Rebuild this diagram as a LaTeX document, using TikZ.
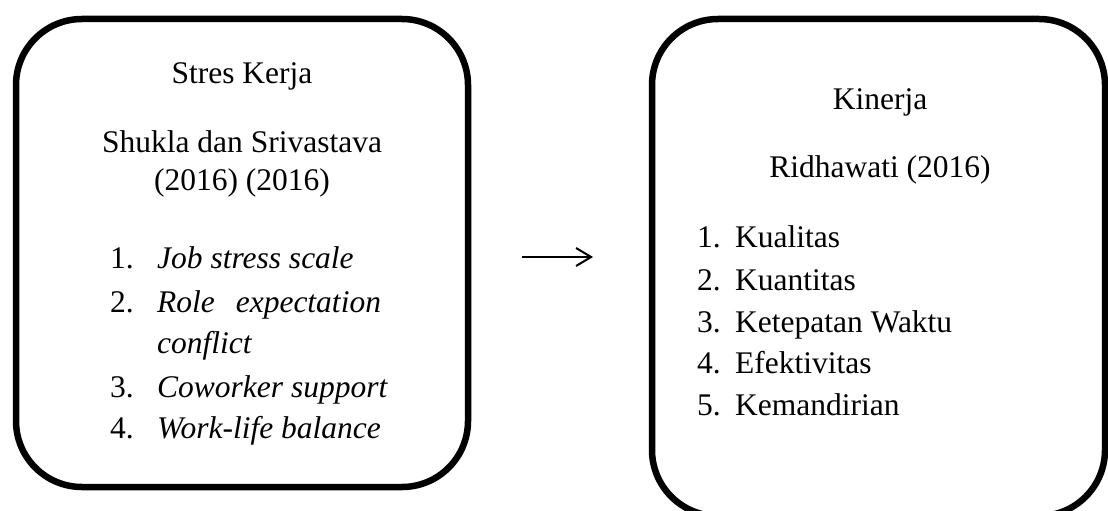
\documentclass[tikz,border=0pt]{standalone}
\usepackage{fontspec}
\setmainfont{Liberation Serif}
\usetikzlibrary{arrows.meta}

\tikzset{
    kotak/.style={draw, line width=6.5pt, rounded corners=66pt},
    judul/.style={anchor=base, inner sep=0pt},
    butir/.style={anchor=base west, inner sep=0pt},
    panah/.style={line width=2pt, -{Straight Barb[length=15pt,width=18pt,line width=2pt]}}
}

\begin{document}
\begin{tikzpicture}[x=1pt, y=-1pt, font=\fontsize{31.5}{42}\selectfont]
    \useasboundingbox (0,0) rectangle (1108,511);
    % kotak kiri dan kanan
    \node[kotak, minimum width=452pt, minimum height=468pt] (stres)   at (242,253)   {};
    \node[kotak, minimum width=453pt, minimum height=497pt] (kinerja) at (878.5,267.5) {};

    % isi kotak kiri
    \node[judul] (stresjudul) at (242,83)  {Stres Kerja};
    \node[judul] (stressumber) at (242,152) {Shukla dan Srivastava};
    \node[judul] (strestahun) at (242,190) {(2016) (2016)};
    \node[butir] (sn1) at (110,268) {1.};
    \node[butir] (sn2) at (110,312) {2.};
    \node[butir] (sn3) at (110,397) {3.};
    \node[butir] (sn4) at (110,438) {4.};
    \node[butir] (si1) at (157,268) {\itshape Job stress scale};
    \node[butir] (si2) at (157,312) {\itshape Role\hspace{13pt} expectation};
    \node[butir] (si2b) at (157,353) {\itshape conflict};
    \node[butir] (si3) at (157,397) {\itshape Coworker support};
    \node[butir] (si4) at (157,438) {\itshape Work-life balance};

    % isi kotak kanan
    \node[judul] (kinjudul) at (880,109) {Kinerja};
    \node[judul] (kinsumber) at (880,177) {Ridhawati (2016)};
    \node[butir] (kn1) at (697,247) {1.};
    \node[butir] (kn2) at (697,290) {2.};
    \node[butir] (kn3) at (697,332) {3.};
    \node[butir] (kn4) at (697,373) {4.};
    \node[butir] (kn5) at (697,415) {5.};
    \node[butir] (ki1) at (735,247) {Kualitas};
    \node[butir] (ki2) at (735,290) {Kuantitas};
    \node[butir] (ki3) at (735,332) {Ketepatan Waktu};
    \node[butir] (ki4) at (735,373) {Efektivitas};
    \node[butir] (ki5) at (735,415) {Kemandirian};

    % panah
    \coordinate (pa) at (522,257);
    \coordinate (pb) at (593,257);
    \draw[panah] (pa) -- (pb);
\end{tikzpicture}
\end{document}
